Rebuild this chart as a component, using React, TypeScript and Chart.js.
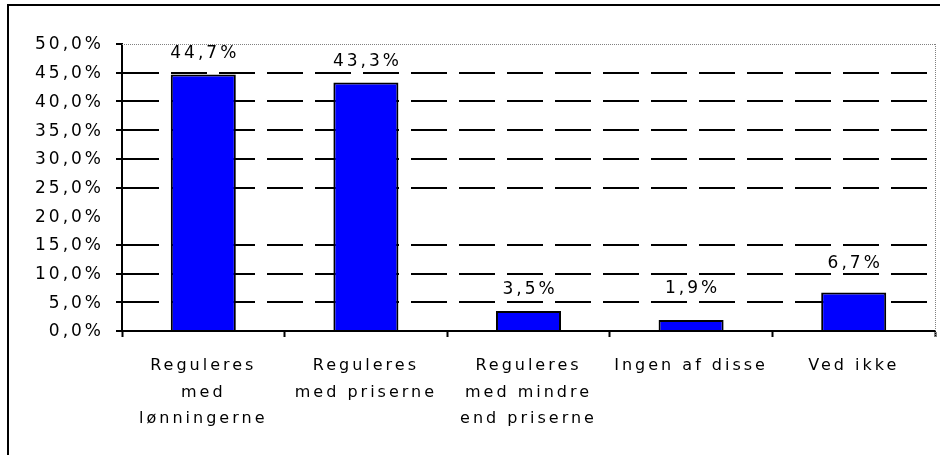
import React, { useEffect, useRef } from "react";
import { Chart, registerables } from "chart.js";

Chart.register(...registerables);

const categories: string[][] = [
  ["Reguleres", "med", "lønningerne"],
  ["Reguleres", "med priserne"],
  ["Reguleres", "med mindre", "end priserne"],
  ["Ingen af disse"],
  ["Ved ikke"],
];
const values: number[] = [44.7, 43.3, 3.5, 1.9, 6.7];
const yMin = 0;
const yMax = 50;
const yStep = 5;
const hiddenGridValues: number[] = [0, 20, 50];
const hiddenTickValues: number[] = [20];

// style: gap (px) between bar top and value label baseline
const labelGap: number[] = [16, 16, 17, 27, 25];

const FONT = "'DejaVu Sans', sans-serif";
const CAT_SIZE = 16;
const NUM_SIZE = 17;
const SPACING = 3;

function fmt(v: number): string {
  return v.toFixed(1).replace(".", ",") + "%";
}

function isIn(list: number[], v: any): boolean {
  if (typeof v !== "number") return false;
  return list.some((x) => Math.abs(x - v) < 1e-6);
}

const spacingPlugin = {
  id: "letterSpacing",
  beforeUpdate(chart: any) {
    (chart.ctx as any).letterSpacing = SPACING + "px";
  },
  beforeLayout(chart: any) {
    (chart.ctx as any).letterSpacing = SPACING + "px";
  },
  beforeDraw(chart: any) {
    (chart.ctx as any).letterSpacing = SPACING + "px";
  },
};

const framePlugin = {
  id: "frame",
  beforeDatasetsDraw(chart: any) {
    const { ctx, chartArea } = chart;
    ctx.save();
    ctx.strokeStyle = "#808080";
    ctx.lineWidth = 1;
    ctx.setLineDash([1, 1]);
    ctx.beginPath();
    ctx.moveTo(chartArea.left, chartArea.top + 0.5);
    ctx.lineTo(chartArea.right, chartArea.top + 0.5);
    ctx.moveTo(chartArea.right + 0.5, chartArea.top);
    ctx.lineTo(chartArea.right + 0.5, chartArea.bottom + 6);
    ctx.stroke();
    ctx.restore();
  },
};

const labelPlugin = {
  id: "valueLabels",
  afterDatasetsDraw(chart: any) {
    const { ctx } = chart;
    const meta = chart.getDatasetMeta(0);
    ctx.save();
    ctx.letterSpacing = SPACING + "px";
    ctx.font = `${NUM_SIZE}px ${FONT}`;
    ctx.fillStyle = "#000";
    ctx.textAlign = "center";
    ctx.textBaseline = "alphabetic";
    meta.data.forEach((bar: any, i: number) => {
      ctx.fillText(fmt(values[i]), bar.x + SPACING / 2, bar.y - labelGap[i]);
    });
    ctx.restore();
  },
};

export default function App() {
  const ref = useRef<HTMLCanvasElement | null>(null);

  useEffect(() => {
    if (!ref.current) return;
    const chart = new Chart(ref.current, {
      type: "bar",
      data: {
        labels: categories,
        datasets: [
          {
            data: values,
            backgroundColor: "#0000FF",
            borderColor: "#000000",
            borderWidth: 2,
            barPercentage: 0.8,
            categoryPercentage: 0.5,
          },
        ],
      },
      options: {
        responsive: false,
        animation: false,
        layout: { padding: { top: 44, right: 5, left: 0, bottom: 0 } },
        plugins: {
          legend: { display: false },
          tooltip: { enabled: false },
          title: { display: false },
        },
        scales: {
          x: {
            offset: true,
            ticks: {
              color: "#000",
              font: { family: FONT, size: CAT_SIZE, lineHeight: 1.65 },
              padding: 16,
              maxRotation: 0,
              autoSkip: false,
            },
            grid: {
              offset: true,
              drawOnChartArea: false,
              drawTicks: true,
              tickLength: 6,
              tickColor: "#000",
              tickWidth: 2,
              color: "#000",
            },
            border: { color: "#000", width: 2 },
            afterFit: (s: any) => {
              s.height = 124;
            },
          },
          y: {
            min: yMin,
            max: yMax,
            ticks: {
              stepSize: yStep,
              color: "#000",
              font: { family: FONT, size: NUM_SIZE },
              padding: 12,
              labelOffset: 1,
              callback: (v: any) => fmt(Number(v)),
            },
            grid: {
              color: (c: any) =>
                isIn(hiddenGridValues, c.tick?.value) ? "rgba(0,0,0,0)" : "#000",
              lineWidth: 2,
              tickLength: 6,
              tickWidth: 2,
              tickColor: (c: any) =>
                isIn(hiddenTickValues, c.tick?.value) ? "rgba(0,0,0,0)" : "#000",
            },
            border: { color: "#000", width: 2, dash: [36, 12] },
            afterFit: (s: any) => {
              s.width = 122;
            },
          },
        },
      },
      plugins: [spacingPlugin, framePlugin, labelPlugin],
    });
    return () => chart.destroy();
  }, []);

  return (
    <div
      style={{
        position: "absolute",
        left: 0,
        top: 0,
        width: 940,
        height: 455,
        overflow: "hidden",
        background: "#fff",
      }}
    >
      <div
        style={{
          position: "absolute",
          left: 7,
          top: 4,
          width: 1000,
          height: 1000,
          border: "2px solid #000",
          boxSizing: "border-box",
        }}
      />
      <canvas
        ref={ref}
        width={940}
        height={455}
        style={{ position: "absolute", left: 0, top: 0, display: "block" }}
      />
    </div>
  );
}
